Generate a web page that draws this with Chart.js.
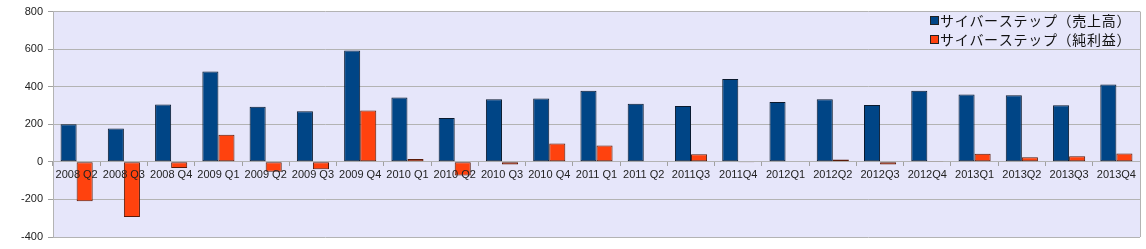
<!DOCTYPE html>
<html lang="ja">
<head>
  <meta charset="UTF-8">
  <title>サイバーステップ 四半期業績</title>
  <script src="https://cdn.jsdelivr.net/npm/chart.js"></script>
  <style>
    body { margin: 0; background: #fff; }
    #wrap { width: 1146px; height: 249px; }
  </style>
</head>
<body>
  <div id="wrap"><canvas id="grafico" width="1146" height="249"></canvas></div>

  <script>
    const categories = [
      '2008 Q2', '2008 Q3', '2008 Q4', '2009 Q1', '2009 Q2', '2009 Q3', '2009 Q4',
      '2010 Q1', '2010 Q2', '2010 Q3', '2010 Q4', '2011 Q1', '2011 Q2', '2011Q3', '2011Q4',
      '2012Q1', '2012Q2', '2012Q3', '2012Q4', '2013Q1', '2013Q2', '2013Q3', '2013Q4'
    ];
    const salesLabel = 'サイバーステップ（売上高）';
    const profitLabel = 'サイバーステップ（純利益）';
    const sales = [200, 177, 305, 481, 294, 269, 593, 343, 234, 333, 338, 379, 310, 297, 441, 319, 333, 303, 379, 359, 354, 301, 412];
    const profit = [-210, -294, -32, 145, -53, -39, 273, 15, -72, -14, 98, 87, 3, 41, -3, -2, 12, -14, 5, 43, 25, 30, 45];
    const yTicks = [-400, -200, 0, 200, 400, 600, 800];

    // lavender plot background + right frame line
    const plotBg = {
      id: 'plotBg',
      beforeDraw(chart) {
        const a = chart.chartArea, ctx = chart.ctx;
        ctx.save();
        ctx.fillStyle = '#e6e6fa';
        ctx.fillRect(a.left, a.top, a.right - a.left, a.bottom - a.top);
        ctx.restore();
      },
      afterDraw(chart) {
        const a = chart.chartArea, ctx = chart.ctx;
        ctx.save();
        ctx.strokeStyle = '#b3b3b3';
        ctx.lineWidth = 1;
        ctx.beginPath();
        ctx.moveTo(a.right + 0.5, a.top);
        ctx.lineTo(a.right + 0.5, a.bottom);
        ctx.stroke();
        ctx.restore();
      }
    };

    // legend drawn inside the plot, top right
    const innerLegend = {
      id: 'innerLegend',
      afterDraw(chart) {
        const ctx = chart.ctx;
        ctx.save();
        ctx.font = '14px "Noto Sans CJK JP", sans-serif';
        ctx.letterSpacing = '0.7px';
        ctx.textBaseline = 'middle';
        chart.data.datasets.forEach((ds, i) => {
          const y = 21 + i * 19;
          ctx.fillStyle = ds.backgroundColor;
          ctx.fillRect(930, y - 5, 9, 9);
          ctx.strokeStyle = '#222';
          ctx.lineWidth = 1;
          ctx.strokeRect(930.5, y - 4.5, 8, 8);
          ctx.fillStyle = '#111';
          ctx.fillText(ds.label, 940, y);
        });
        ctx.restore();
      }
    };

    new Chart(document.getElementById('grafico'), {
      type: 'bar',
      data: {
        labels: categories,
        datasets: [
          { label: salesLabel, data: sales, backgroundColor: '#004586', borderColor: '#0a1a2e', borderWidth: 1, borderSkipped: false },
          { label: profitLabel, data: profit, backgroundColor: '#ff420e', borderColor: '#5a1a08', borderWidth: 1, borderSkipped: false }
        ]
      },
      options: {
        responsive: false,
        animation: false,
        layout: { padding: { left: 0, top: 11, right: 6, bottom: 12 } },
        datasets: { bar: { categoryPercentage: 0.68, barPercentage: 1.0 } },
        plugins: { legend: { display: false }, tooltip: { enabled: false } },
        scales: {
          x: {
            position: { y: 0 },
            grid: { drawOnChartArea: false, offset: true, tickLength: 4, color: '#a0a0a0' },
            border: { display: true, color: '#b3b3b3' },
            ticks: { z: 1, autoSkip: false, maxRotation: 0, padding: 3, color: '#222', font: { family: 'Arial', size: 11 } }
          },
          y: {
            min: -400,
            max: 800,
            afterBuildTicks(scale) { scale.ticks = yTicks.map(v => ({ value: v })); },
            afterFit(scale) { scale.width = 53; },
            grid: { color: '#b3b3b3', tickLength: 5, tickColor: '#a0a0a0' },
            border: { display: true, color: '#b3b3b3' },
            ticks: { padding: 5, color: '#222', font: { family: 'Arial', size: 11 } }
          }
        }
      },
      plugins: [plotBg, innerLegend]
    });
  </script>
</body>
</html>
